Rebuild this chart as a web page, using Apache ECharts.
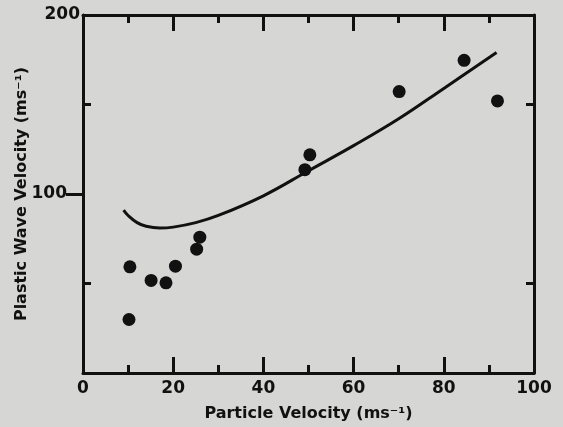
<!DOCTYPE html>
<html lang="en">
<head>
    <meta charset="UTF-8">
    <title>Plastic wave velocity</title>
    <style>
        html,body{
            width: 100%;
            height: 100%;
            margin: 0;
            padding: 0;
            background: #d6d6d4;
        }
    </style>
</head>
<body>
<div id="main" style="width: 563px;height:427px;"></div>

<script src="https://cdn.jsdelivr.net/npm/echarts@6/dist/echarts.min.js"></script>
<script>
    // measured points
    var particleV = [10.4, 10.2, 15.1, 18.4, 20.5, 25.2, 25.9, 49.2, 50.3, 70.1, 84.5, 91.9];
    var waveV     = [59.3, 29.9, 51.7, 50.4, 59.7, 69.2, 75.9, 113.6, 121.9, 157.2, 174.7, 152];
    // fitted curve
    var curveX = [9, 10, 12, 14, 17, 20, 25, 30, 40, 50, 60, 70, 80, 91.7];
    var curveY = [91, 88, 84, 82, 81, 81.5, 84, 88, 99, 113, 127, 142, 159, 179];
    var xTicks = [0, 20, 40, 60, 80, 100];

    var ink = '#111';
    var font = 'DejaVu Sans';

    var myChart = echarts.init(document.getElementById('main'));

    var points = particleV.map(function (x, i) { return [x, waveV[i]]; });
    var curve = curveX.map(function (x, i) { return [x, curveY[i]]; });

    //y轴：刻度朝里，100 处刻度朝外
    function yAx(pos, opt) {
        var base = {
            type: 'value', position: pos, min: 0, max: 200, interval: 50,
            axisLine: {show: false, lineStyle: {color: ink, width: 3}},
            axisTick: {show: false},
            axisLabel: {show: false},
            splitLine: {show: false}
        };
        return Object.assign(base, opt);
    }
    function xAx(pos, labels) {
        return {
            type: 'value', position: pos, min: 0, max: 100, interval: 20,
            axisLine: {show: true, onZero: false, lineStyle: {color: ink, width: 3}},
            axisTick: {show: true, inside: true, length: 16, lineStyle: {color: ink, width: 3}},
            minorTick: {show: true, splitNumber: 2, length: 8, lineStyle: {color: ink, width: 3}},
            axisLabel: {
                show: labels, color: ink, fontFamily: font, fontWeight: 'bold', fontSize: 17,
                margin: 7, customValues: xTicks
            },
            splitLine: {show: false},
            name: labels ? 'Particle Velocity (ms\u207B\u00B9)' : '',
            nameLocation: 'middle', nameGap: 33,
            nameTextStyle: {color: ink, fontFamily: font, fontWeight: 'bold', fontSize: 16}
        };
    }

    myChart.setOption({
        backgroundColor: '#d6d6d4',
        animation: false,
        grid: {left: 83, right: 29, top: 15, bottom: 51},
        xAxis: [xAx('bottom', true), xAx('top', false)],
        yAxis: [
            yAx('left', {
                axisLine: {show: true, onZero: false, lineStyle: {color: ink, width: 3}},
                axisTick: {show: true, inside: true, length: 8, customValues: [50, 150], lineStyle: {color: ink, width: 3}},
                axisLabel: {show: true, customValues: [200], margin: 3, color: ink, fontFamily: font, fontWeight: 'bold', fontSize: 17},
                name: 'Plastic Wave Velocity (ms\u207B\u00B9)',
                nameLocation: 'middle', nameGap: 53, nameRotate: 90,
                nameTextStyle: {color: ink, fontFamily: font, fontWeight: 'bold', fontSize: 16}
            }),
            yAx('left', {
                axisTick: {show: true, inside: false, length: 15, customValues: [100], lineStyle: {color: ink, width: 3}},
                axisLabel: {show: true, customValues: [100], margin: 16, color: ink, fontFamily: font, fontWeight: 'bold', fontSize: 17}
            }),
            yAx('right', {
                axisLine: {show: true, onZero: false, lineStyle: {color: ink, width: 3}},
                axisTick: {show: true, inside: true, length: 8, customValues: [50, 150], lineStyle: {color: ink, width: 3}}
            }),
            yAx('right', {
                axisTick: {show: true, inside: true, length: 17, customValues: [100], lineStyle: {color: ink, width: 3}}
            })
        ],
        series: [
            {
                type: 'line',
                data: curve,
                smooth: 0.4,
                showSymbol: false,
                lineStyle: {color: ink, width: 3}
            },
            {
                type: 'scatter',
                data: points,
                symbolSize: 13,
                itemStyle: {color: ink, opacity: 1}
            }
        ]
    });
</script>
</body>
</html>
